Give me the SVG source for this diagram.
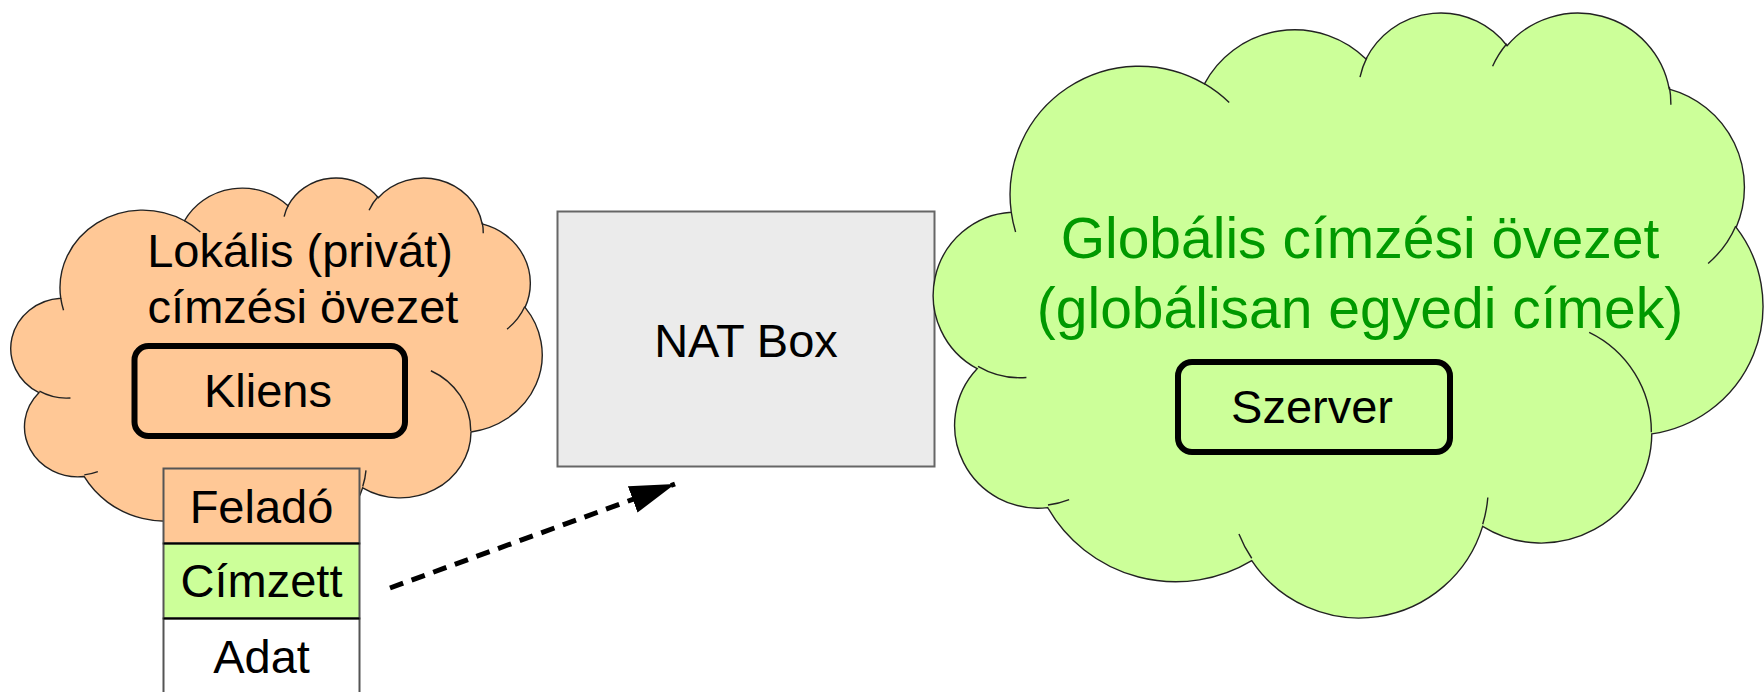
<svg xmlns="http://www.w3.org/2000/svg" xmlns:xlink="http://www.w3.org/1999/xlink" width="1764" height="692" viewBox="0 0 1764 692">
<style>
  .txt { font-family: "Liberation Sans", Arial, sans-serif; font-size: 47px; fill: #000; text-anchor: middle; }
  .gtxt { font-family: "Liberation Sans", Arial, sans-serif; font-size: 57px; fill: #009900; text-anchor: middle; }
  .cloudline { stroke: #222; stroke-width: 1.4; vector-effect: non-scaling-stroke; }
  .host { stroke: #000; stroke-width: 6; }
  .cell { stroke: #555; stroke-width: 2; }
</style>
<defs>
  <path id="cloudOutline" class="cloudline" d="M3900,14370 A6753,9190 0 0 1 14005,5202 A5333,7267 0 0 1 22456,3432 A4365,5945 0 0 1 29833,2481 A4857,6595 0 0 1 38318,5576 A5333,7273 0 0 1 41818,15459 A6775,9220 0 0 1 37404,30203 A5785,7867 0 0 1 28556,36813 A6752,9215 0 0 1 16480,39264 A7720,10543 0 0 1 5805,35470 A4360,5918 0 0 1 2114,25548 A4345,5945 0 0 1 3900,14370 Z"/>
  <path id="cloudCreases" class="cloudline" fill="none" d="M4693,26177 A4345,5945 0 0 1 2160,25380 M6928,34899 A4360,5918 0 0 1 5820,35281 M16478,39090 A6752,9215 0 0 1 15810,37350 M28827,34751 A6752,9215 0 0 1 28560,36660 M34129,22954 A5785,7867 0 0 1 37380,30090 M41798,15354 A5333,7273 0 0 1 40350,18030 M38324,5426 A4857,6595 0 0 1 38401,6689 M29078,3952 A4857,6595 0 0 1 29820,2341 M22141,4720 A4365,5945 0 0 1 22500,3330 M14000,5192 A6753,9190 0 0 1 15300,6541 M4127,15789 A6753,9190 0 0 1 3900,14370"/>
  <marker id="arrowHead" markerUnits="userSpaceOnUse" markerWidth="48" markerHeight="30" refX="45" refY="14" orient="auto">
    <path d="M0,0 L45,14 L0,28 Z" fill="#000"/>
  </marker>
</defs>

<g id="nat-box">
  <rect x="557.5" y="211.5" width="377" height="255" fill="#ebebeb" stroke="#666" stroke-width="2"/>
  <text class="txt" x="746" y="357">NAT Box</text>
</g>

<g id="local-cloud">
  <g transform="translate(13,176.8) scale(0.012245,0.008449)" fill="#ffc896">
    <use xlink:href="#cloudOutline" href="#cloudOutline"/>
    <use xlink:href="#cloudCreases" href="#cloudCreases"/>
  </g>
  <text class="txt" x="300" y="267">Lokális (privát)</text>
  <text class="txt" x="303" y="323">címzési övezet</text>
</g>

<g id="global-cloud">
  <g transform="translate(936.7,11) scale(0.019118,0.0140)" fill="#ccff99">
    <use xlink:href="#cloudOutline" href="#cloudOutline"/>
    <use xlink:href="#cloudCreases" href="#cloudCreases"/>
  </g>
  <text class="gtxt" x="1360" y="258">Globális címzési övezet</text>
  <text class="gtxt" x="1360" y="328">(globálisan egyedi címek)</text>
</g>

<g id="kliens">
  <rect class="host" x="134.5" y="346" width="270.5" height="90" rx="14" fill="#ffc896"/>
  <text class="txt" x="268" y="407">Kliens</text>
</g>

<g id="szerver">
  <rect class="host" x="1178" y="362" width="272" height="90" rx="14" fill="#ccff99"/>
  <text class="txt" x="1312" y="423">Szerver</text>
</g>

<g id="packet">
  <rect class="cell" x="163.5" y="468.5" width="196" height="75" fill="#ffc896"/>
  <rect class="cell" x="163.5" y="543.5" width="196" height="75" fill="#ccff99"/>
  <rect class="cell" x="163.5" y="618.5" width="196" height="80" fill="#ffffff"/>
  <line x1="163.5" y1="543.5" x2="359.5" y2="543.5" stroke="#000" stroke-width="2"/>
  <line x1="163.5" y1="618.5" x2="359.5" y2="618.5" stroke="#000" stroke-width="2"/>
  <text class="txt" x="261.5" y="523">Feladó</text>
  <text class="txt" x="261.5" y="597">Címzett</text>
  <text class="txt" x="261.5" y="673">Adat</text>
</g>

<g id="connectors">
  <line x1="390" y1="588" x2="675" y2="484" stroke="#000" stroke-width="5" stroke-dasharray="14 9" marker-end="url(#arrowHead)"/>
</g>
</svg>
